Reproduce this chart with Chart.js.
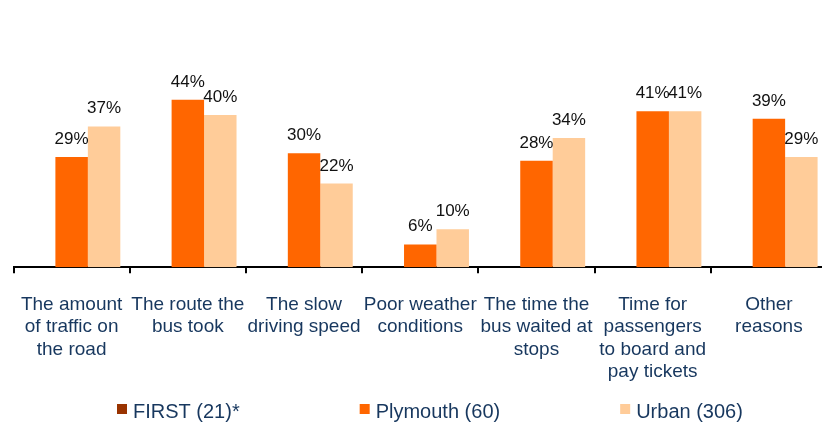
<!DOCTYPE html>
<html>
<head>
<meta charset="utf-8">
<script src="https://cdn.jsdelivr.net/npm/chart.js@4/dist/chart.umd.min.js"></script>
<style>
  html, body { margin: 0; padding: 0; background: #fff; overflow: hidden; }
  #wrap { width: 822px; height: 427px; overflow: hidden; }
</style>
</head>
<body>
<div id="wrap"><canvas id="reasonsChart" width="830" height="427"></canvas></div>
<script>
const categories = [
    ['The amount', 'of traffic on', 'the road'],
    ['The route the', 'bus took'],
    ['The slow', 'driving speed'],
    ['Poor weather', 'conditions'],
    ['The time the', 'bus waited at', 'stops'],
    ['Time for', 'passengers', 'to board and', 'pay tickets'],
    ['Other', 'reasons']
];
const seriesNames = ['FIRST (21)*', 'Plymouth (60)', 'Urban (306)'];
const firstValues = [null, null, null, null, null, null, null];
const plymouthValues = [29, 44, 30, 6, 28, 41, 39];
const urbanValues = [37, 40, 22, 10, 34, 41, 29];

const seriesColors = ['#993300', '#FF6600', '#FFCC99'];
const textBlue = '#17375E';
const fontName = '"Liberation Sans", Arial, sans-serif';

// value labels above each bar
const barLabels = {
    id: 'barLabels',
    afterDatasetsDraw(chart) {
        const ctx = chart.ctx;
        ctx.save();
        ctx.font = '17px ' + fontName;
        ctx.fillStyle = '#111111';
        ctx.textAlign = 'center';
        ctx.textBaseline = 'alphabetic';
        chart.data.datasets.forEach((ds, i) => {
            chart.getDatasetMeta(i).data.forEach((bar, j) => {
                const v = ds.data[j];
                if (v === null || v === undefined) return;
                ctx.fillText(v + '%', bar.x, bar.y - 13);
            });
        });
        ctx.restore();
    }
};

// legend along the bottom, spaced like the original
const bottomLegend = {
    id: 'bottomLegend',
    afterDraw(chart) {
        const ctx = chart.ctx;
        ctx.save();
        ctx.font = '20px ' + fontName;
        ctx.textBaseline = 'middle';
        ctx.textAlign = 'left';
        let x = 117;
        const y = 411;
        chart.data.datasets.forEach((ds) => {
            ctx.fillStyle = ds.backgroundColor;
            ctx.fillRect(x, y - 7, 10, 10);
            ctx.fillStyle = textBlue;
            ctx.fillText(ds.label, x + 16, y + 1);
            x += 16 + ctx.measureText(ds.label).width + 120;
        });
        ctx.restore();
    }
};

const ctxReasons = document.getElementById('reasonsChart');

const reasonsChart = new Chart(ctxReasons, {
    type: 'bar',
    data: {
        labels: categories,
        datasets: [
            { label: seriesNames[0], data: firstValues, backgroundColor: seriesColors[0] },
            { label: seriesNames[1], data: plymouthValues, backgroundColor: seriesColors[1] },
            { label: seriesNames[2], data: urbanValues, backgroundColor: seriesColors[2] }
        ]
    },
    options: {
        responsive: false,
        animation: false,
        layout: {
            padding: { top: 77, left: 13, right: 3, bottom: 24 }
        },
        datasets: {
            bar: { barPercentage: 1, categoryPercentage: 0.838 }
        },
        plugins: {
            legend: { display: false },
            tooltip: { enabled: false }
        },
        scales: {
            x: {
                grid: {
                    display: true,
                    drawOnChartArea: false,
                    drawTicks: true,
                    tickLength: 6,
                    color: '#000000',
                    lineWidth: 2
                },
                border: { display: true, color: '#000000', width: 2 },
                ticks: {
                    color: textBlue,
                    font: { family: fontName, size: 19, lineHeight: 1.18 },
                    padding: 20,
                    autoSkip: false,
                    maxRotation: 0,
                    minRotation: 0
                }
            },
            y: {
                display: false,
                min: 0,
                max: 50
            }
        }
    },
    plugins: [barLabels, bottomLegend]
});
</script>
</body>
</html>
